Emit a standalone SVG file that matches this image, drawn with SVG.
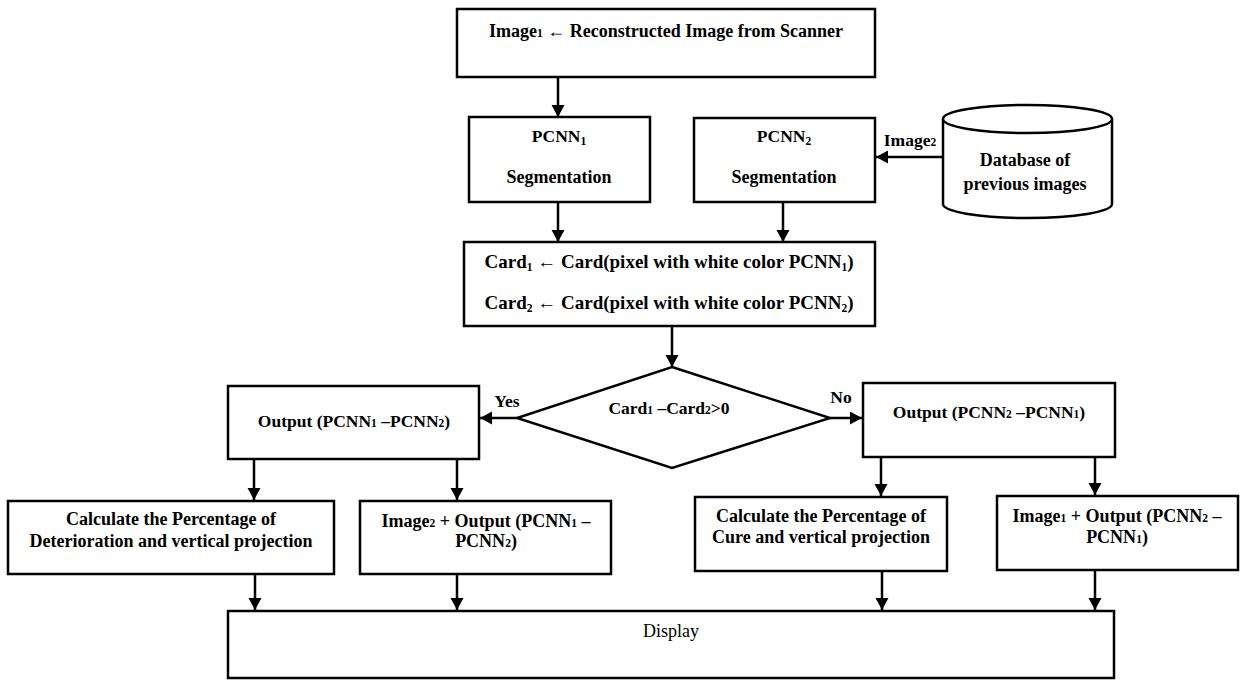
<svg xmlns="http://www.w3.org/2000/svg" width="1240" height="680" viewBox="0 0 1240 680">
<style>
.box{fill:#fff;stroke:#000;stroke-width:2.5}
.t{font-family:"Liberation Serif","Times New Roman",serif;font-weight:bold;font-size:17.5px;fill:#000;text-anchor:middle}
.reg{font-weight:normal;font-size:18px}
.big{font-size:18px}
.card{font-size:19px}
.c{fill:none;stroke:#000;stroke-width:2.5;marker-end:url(#ah)}
.s{font-size:11.5px}
</style>
<defs>
<marker id="ah" markerUnits="userSpaceOnUse" markerWidth="14" markerHeight="14" refX="12" refY="6.5" orient="auto">
<path d="M0,0 L12,6.5 L0,13 Z" fill="#000"/>
</marker>
</defs>
<rect width="1240" height="680" fill="#fff"/>
<g id="connectors">
<path class="c" d="M558,77 V117"/>
<path class="c" d="M558,202 V242"/>
<path class="c" d="M783,202 V242"/>
<path class="c" d="M943,157 H876"/>
<path class="c" d="M672,326 V367"/>
<path class="c" d="M517,418 H480"/>
<path class="c" d="M830,418 H862"/>
<path class="c" d="M254,459 V500"/>
<path class="c" d="M457,459 V500"/>
<path class="c" d="M881,457 V496"/>
<path class="c" d="M1095,457 V495"/>
<path class="c" d="M255,574 V610"/>
<path class="c" d="M457,574 V610"/>
<path class="c" d="M882,571 V610"/>
<path class="c" d="M1095,570 V610"/>
<text class="t" x="910" y="146">Image<tspan class="s">2</tspan></text>
<text class="t" x="507" y="407">Yes</text>
<text class="t" x="841" y="403">No</text>
</g>
<g id="n-top">
<rect class="box" x="457" y="9" width="418" height="68"/>
<text class="t big" x="666" y="37">Image<tspan class="s">1</tspan> ← Reconstructed Image from Scanner</text>
</g>
<g id="n-pcnn1">
<rect class="box" x="469" y="117" width="181" height="85"/>
<text class="t" x="559" y="142">PCNN<tspan class="s" baseline-shift="-3">1</tspan></text>
<text class="t big" x="559" y="183">Segmentation</text>
</g>
<g id="n-pcnn2">
<rect class="box" x="694" y="118" width="181" height="84"/>
<text class="t" x="784" y="142">PCNN<tspan class="s" baseline-shift="-3">2</tspan></text>
<text class="t big" x="784" y="183">Segmentation</text>
</g>
<g id="n-db">
<path class="box" d="M943,119 A84.5,14 0 0 1 1112,119 V204 A84.5,14 0 0 1 943,204 Z"/>
<path class="box" d="M943,119 A84.5,14 0 0 0 1112,119" fill="none"/>
<text class="t big" x="1025" y="166">Database of</text>
<text class="t big" x="1025" y="190">previous images</text>
</g>
<g id="n-card">
<rect class="box" x="464" y="242" width="411" height="84"/>
<text class="t card" x="669" y="268">Card<tspan class="s" baseline-shift="-3">1</tspan> ← Card(pixel with white color PCNN<tspan class="s" baseline-shift="-3">1</tspan>)</text>
<text class="t card" x="669" y="309">Card<tspan class="s" baseline-shift="-3">2</tspan> ← Card(pixel with white color PCNN<tspan class="s" baseline-shift="-3">2</tspan>)</text>
</g>
<g id="n-decision">
<path class="box" d="M672,367 L830,418 L672,468 L517,418 Z"/>
<text class="t" x="669" y="414">Card<tspan class="s">1</tspan> –Card<tspan class="s">2</tspan>&gt;0</text>
</g>
<g id="n-out1">
<rect class="box" x="228" y="386" width="251" height="73"/>
<text class="t" x="354" y="427">Output (PCNN<tspan class="s">1</tspan> –PCNN<tspan class="s">2</tspan>)</text>
</g>
<g id="n-out2">
<rect class="box" x="863" y="383" width="252" height="74"/>
<text class="t" x="989" y="418">Output (PCNN<tspan class="s">2</tspan> –PCNN<tspan class="s">1</tspan>)</text>
</g>
<g id="n-calc1">
<rect class="box" x="8" y="501" width="326" height="73"/>
<text class="t big" x="171" y="525">Calculate the Percentage of</text>
<text class="t big" x="171" y="547">Deterioration and vertical projection</text>
</g>
<g id="n-img2">
<rect class="box" x="360" y="501" width="251" height="73"/>
<text class="t big" x="486" y="527">Image<tspan class="s">2</tspan> + Output (PCNN<tspan class="s">1</tspan> –</text>
<text class="t big" x="486" y="547">PCNN<tspan class="s">2</tspan>)</text>
</g>
<g id="n-calc2">
<rect class="box" x="695" y="497" width="252" height="74"/>
<text class="t big" x="821" y="522">Calculate the Percentage of</text>
<text class="t big" x="821" y="543">Cure and vertical projection</text>
</g>
<g id="n-img1">
<rect class="box" x="997" y="496" width="241" height="74"/>
<text class="t big" x="1117" y="522">Image<tspan class="s">1</tspan> + Output (PCNN<tspan class="s">2</tspan> –</text>
<text class="t big" x="1117" y="543">PCNN<tspan class="s">1</tspan>)</text>
</g>
<g id="n-display">
<rect class="box" x="228" y="611" width="886" height="67"/>
<text class="t reg" x="671" y="637">Display</text>
</g>
</svg>
